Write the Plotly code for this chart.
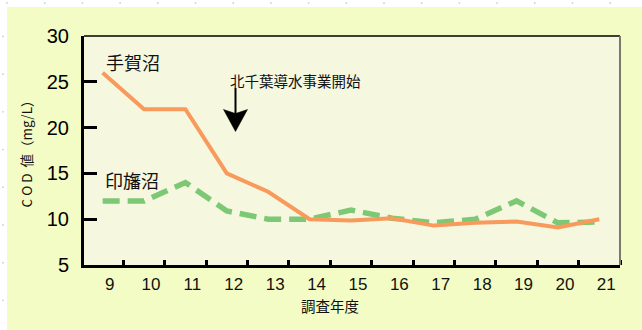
import plotly.graph_objects as go

years = [9, 10, 11, 12, 13, 14, 15, 16, 17, 18, 19, 20, 21]
tega = [26, 22, 22, 15, 13, 10, 9.85, 10.1, 9.3, 9.6, 9.75, 9.1, 10]
inba = [12, 12, 14, 10.9, 10, 10, 11, 10.1, 9.6, 10, 12, 9.6, 9.7]
y_ticks = [5, 10, 15, 20, 25, 30]

W, H = 642, 330
L, R, T, B = 84, 22, 36, 65
pw, ph = W - L - R, H - T - B
XR = [8.55, 21.5]
YR = [5, 30]

def px(xp):
    return (xp - L) / pw

def py(yp):
    return (H - B - yp) / ph

def dx(xp):
    return XR[0] + (xp - L) / pw * (XR[1] - XR[0])

def dy(yp):
    return YR[0] + (H - B - yp) / ph * (YR[1] - YR[0])

CJK = "Noto Sans CJK JP"
NUM = "Liberation Sans"

fig = go.Figure()
fig.add_trace(go.Scatter(x=years, y=inba, mode="lines",
                         line=dict(color="#7dc874", width=5.5, dash="17px,8px"),
                         showlegend=False, hoverinfo="skip"))
fig.add_trace(go.Scatter(x=years, y=tega, mode="lines",
                         line=dict(color="#f89a5c", width=4),
                         showlegend=False, hoverinfo="skip"))

shapes = []
shapes.append(dict(type="rect", xref="paper", yref="paper", layer="below",
                   x0=px(7), x1=px(W + 5), y0=py(H + 5), y1=py(7),
                   fillcolor="#f3fcc4", line=dict(width=0)))
shapes.append(dict(type="rect", xref="paper", yref="paper", layer="below",
                   x0=0, x1=1, y0=0, y1=1,
                   fillcolor="#f5f7df", line=dict(width=0)))
shapes.append(dict(type="line", xref="paper", yref="paper",
                   x0=0, x1=1, y0=1, y1=1, line=dict(color="black", width=1.5)))
shapes.append(dict(type="line", xref="paper", yref="paper",
                   x0=1, x1=1, y0=0, y1=1, line=dict(color="#7a7a6a", width=2)))
k = 0
while 7 + 37.7 * k < W:
    x = 7 + 37.7 * k
    shapes.append(dict(type="rect", xref="paper", yref="paper",
                       x0=px(x - 0.7), x1=px(x + 0.7), y0=py(3.7), y1=py(2.3),
                       fillcolor="#9fd8c8", line=dict(width=0)))
    k += 1
k = 0
while 36.5 + 37.7 * k < H:
    y = 36.5 + 37.7 * k
    shapes.append(dict(type="rect", xref="paper", yref="paper",
                       x0=px(2.3), x1=px(3.7), y0=py(y + 0.7), y1=py(y - 0.7),
                       fillcolor="#9fd8c8", line=dict(width=0)))
    k += 1

# arrow (shaft + head)
ax_px = 235.5
shapes.append(dict(type="line", xref="x", yref="y",
                   x0=dx(ax_px), x1=dx(ax_px), y0=dy(88), y1=dy(116),
                   line=dict(color="black", width=2)))
head = "M{},{} L{},{} L{},{} L{},{} Z".format(
    dx(ax_px - 12), dy(109.5), dx(ax_px), dy(131.5),
    dx(ax_px + 12), dy(109.5), dx(ax_px), dy(113.5))
shapes.append(dict(type="path", xref="x", yref="y", path=head,
                   fillcolor="black", line=dict(color="black", width=0.5)))

annotations = [
    dict(text="手賀沼", x=px(104), y=py(62), xref="paper", yref="paper",
         xanchor="left", yanchor="middle", showarrow=False,
         font=dict(family=CJK, size=18, color="#111")),
    dict(text="印旛沼", x=px(103), y=py(180), xref="paper", yref="paper",
         xanchor="left", yanchor="middle", showarrow=False,
         font=dict(family=CJK, size=18, color="#111")),
    dict(text="北千葉導水事業開始", x=px(228), y=py(80), xref="paper", yref="paper",
         xanchor="left", yanchor="middle", showarrow=False,
         font=dict(family=CJK, size=14.5, color="#111")),
    dict(text="調査年度", x=px(330), y=py(305), xref="paper", yref="paper",
         xanchor="center", yanchor="middle", showarrow=False,
         font=dict(family=CJK, size=14.5, color="#111")),
]

fig.update_layout(
    width=W, height=H,
    margin=dict(l=L, r=R, t=T, b=B),
    paper_bgcolor="white",
    plot_bgcolor="rgba(0,0,0,0)",
    shapes=shapes,
    annotations=annotations,
    xaxis=dict(
        range=XR, tickvals=years, ticktext=[str(y) for y in years],
        ticks="", showgrid=False, zeroline=False,
        showline=True, linecolor="black", linewidth=3,
        tickfont=dict(family=NUM, size=17, color="#111"),
        ticklabelshift=7, ticklabelstandoff=2,
        minor=dict(tickvals=[y + 0.5 for y in years], ticks="inside",
                   ticklen=5, tickwidth=3, tickcolor="black", showgrid=False),
    ),
    yaxis=dict(
        range=YR, tickvals=y_ticks, showgrid=False, zeroline=False,
        showline=True, linecolor="black", linewidth=3,
        ticks="inside", ticklen=13, tickwidth=3, tickcolor="black",
        tickfont=dict(family=NUM, size=20, color="black"),
        ticklabelstandoff=8,
        title=dict(text="C\u00a0O\u00a0D\u00a0\u00a0値（mg/L）",
                   font=dict(family=CJK, size=13.5, color="#111"),
                   standoff=12),
    ),
)

fig.write_html("out.html")
